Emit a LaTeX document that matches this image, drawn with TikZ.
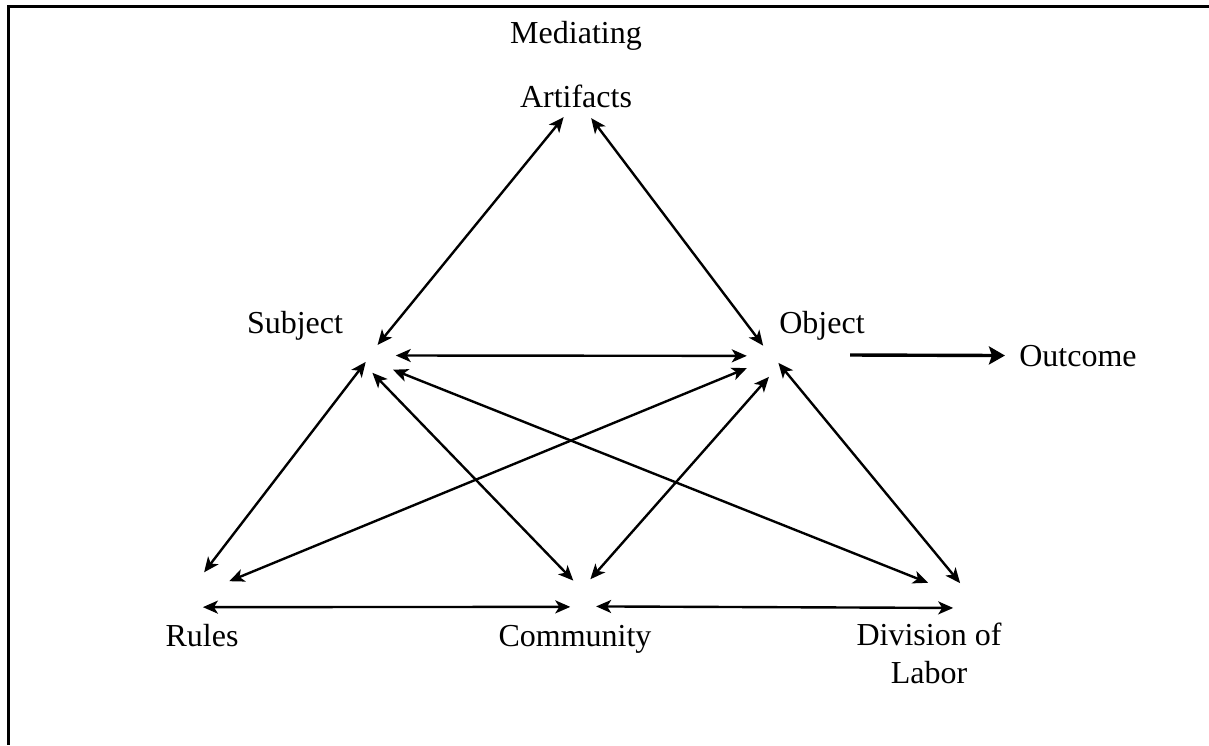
\documentclass[tikz,border=0pt]{standalone}
\usepackage{fontspec}
\setmainfont{Liberation Serif}
\usetikzlibrary{arrows.meta}

\tikzset{
  corner/.style={circle, inner sep=0pt},
  word/.style={anchor=base, inner sep=0pt, align=center, font=\fontsize{16}{19}\selectfont},
  link/.style={line width=1.2pt, {Stealth[length=7.5pt, width=6.5pt, inset=2pt]}-{Stealth[length=7.5pt, width=6.5pt, inset=2pt]}},
  result/.style={line width=1.7pt, -{Stealth[length=8pt, width=9pt, inset=1.5pt]}},
}

\begin{document}
\begin{tikzpicture}[x=0.5pt, y=-0.5pt]
            \useasboundingbox (0,0) rectangle (1209,745);
            % frame
            \draw[line width=1.2pt] (1209,6.5) -- (8.5,6.5) -- (8.5,745);
            % labels (base = last line)
            \node[word] (medtext) at (576,107) {Mediating\\[13pt]Artifacts};
            \node[word] (subjtext) at (295,333) {Subject};
            \node[word] (objtext) at (822,333) {Object};
            \node[word] (outtext) at (1078,366) {Outcome};
            \node[word] (rulestext) at (202,646) {Rules};
            \node[word] (commtext) at (575,646) {Community};
            \node[word] (divtext) at (929,683) {Division of\\Labor};
            % corners
            \node[corner, minimum size=22pt] (med) at (578,100) {};
            \node[corner, minimum size=15pt] (subj) at (381,360) {};
            \node[corner, minimum size=16pt] (obj) at (762,362) {};
            \node[corner, minimum size=19pt] (rules) at (212,590) {};
            \node[corner, minimum size=17pt] (comm) at (583,595) {};
            \node[corner, minimum size=18pt] (div) at (944,592) {};
            \coordinate (outstart) at (850,355);
            % top triangle
            \draw[link] (med.230) -- (subj.103);
            \draw[link] (med.306) -- (obj.86);
            \draw[link] (subj.17) -- (obj.158);
            % subject edges
            \draw[link] (subj.187) -- (rules.114);
            \draw[link] (subj.236) -- (comm.124);
            \draw[link] (subj.321) -- (div.150);
            % object edges
            \draw[link] (obj.202) -- (rules.27);
            \draw[link] (obj.295) -- (comm.65);
            \draw[link] (obj.357) -- (div.29);
            % bottom edges
            \draw[link] (rules.242) -- (comm.223);
            \draw[link] (comm.319) -- (div.300);
            % outcome
            \draw[result, shorten >=7pt] (outstart) -- (outtext.west);
        \end{tikzpicture}
\end{document}
